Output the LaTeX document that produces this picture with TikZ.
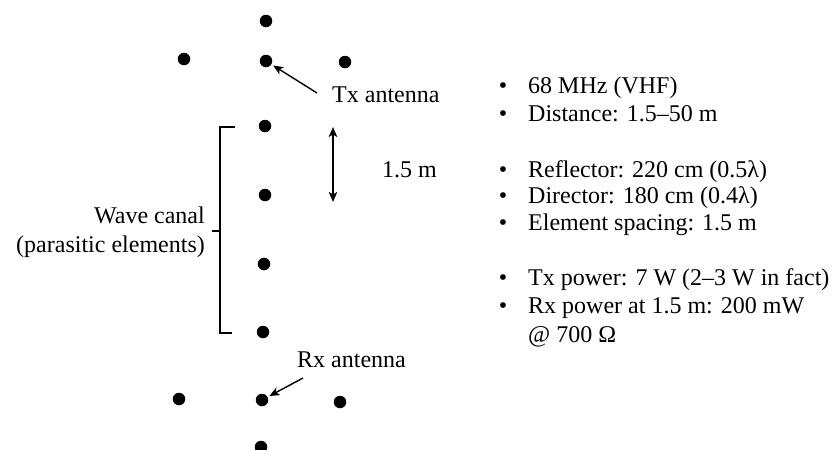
\documentclass[tikz,border=0pt]{standalone}
\usepackage{fontspec}
\setmainfont{Liberation Serif}
\usetikzlibrary{arrows.meta}
\begin{document}
\begin{tikzpicture}[x=1pt,y=-1pt,
  dot/.style={circle,fill=black,inner sep=0pt,minimum size=12.5pt},
  lbl/.style={inner sep=0pt,font=\fontsize{24}{28}\selectfont},
  arr/.style={line width=1.4pt,-{Stealth[length=10pt,width=8.5pt,inset=2.5pt]}},
  darr/.style={line width=1.4pt,{Stealth[length=10pt,width=8.5pt,inset=2.5pt]}-{Stealth[length=10pt,width=8.5pt,inset=2.5pt]}},
  brk/.style={line width=1.2pt}]
\useasboundingbox (0,0) rectangle (836,450);
% dots
\node[dot] (top) at (266,21) {};
\node[dot] (txl) at (184,59) {};
\node[dot] (tx)  at (266,61) {};
\node[dot] (txr) at (345,62) {};
\node[dot] (p1) at (265,126) {};
\node[dot] (p2) at (265,195) {};
\node[dot] (p3) at (264,264) {};
\node[dot] (p4) at (263,332) {};
\node[dot] (rxl) at (179,399) {};
\node[dot] (rx)  at (262,400) {};
\node[dot] (rxr) at (340,402) {};
\node[dot] (bot) at (261,447) {};
% labels
\node[lbl,anchor=base west] (txlab) at (332,102) {Tx antenna};
\node[lbl,anchor=base west] (rxlab) at (297,367) {Rx antenna};
\node[lbl,anchor=base west] (dist) at (382,177) {1.5 m};
\node[lbl,anchor=base east] (wave1) at (205,223) {Wave canal};
\node[lbl,anchor=base east] (wave2) at (205,252) {(parasitic elements)};
% arrows
\coordinate (txa) at (317,93);
\draw[arr,shorten >=2pt] (txa) -- (tx);
\coordinate (rxa) at (303,378);
\draw[arr,shorten >=2pt] (rxa) -- (rx);
\coordinate (d1) at (333,127);
\coordinate (d2) at (333,202);
\draw[darr] (d1) -- (d2);
% bracket
\coordinate (b1) at (235,127);
\coordinate (b2) at (220,333);
\coordinate (b3) at (232,333);
\coordinate (bm) at (220,231);
\coordinate (bt) at (212,231);
\draw[brk] (b1) -| (b2) -- (b3);
\draw[brk] (bm) -- (bt);
% bullet lists
\foreach \n/\y/\t in {l1/93/68 MHz (VHF), l2/121/Distance: 1.5–50 m,
  l3/177/Reflector: 220 cm (0.5λ), l4/203/Director: 180 cm (0.4λ),
  l5/230/Element spacing: 1.5 m, l6/285/Tx power: 7 W (2–3 W in fact),
  l7/313/Rx power at 1.5 m: 200 mW}{
  \node[lbl,anchor=base] (\n-b) at (503,\y) {\textbullet};
  \node[lbl,anchor=base west] (\n) at (528,\y) {\t};
}
\node[lbl,anchor=base west] (l8) at (528,342) {@ 700 Ω};
\end{tikzpicture}
\end{document}
